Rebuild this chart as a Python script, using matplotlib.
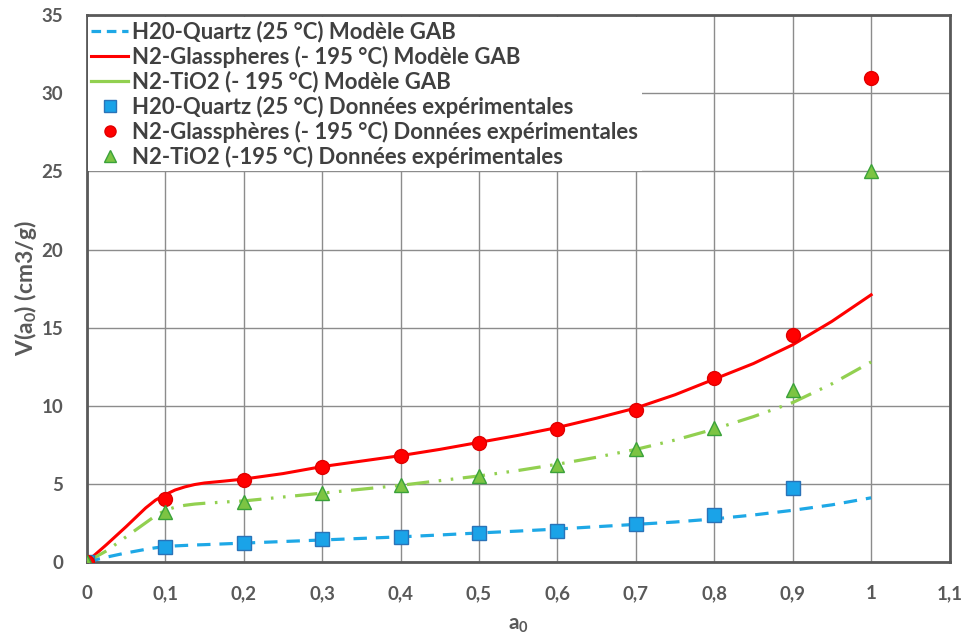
import matplotlib
matplotlib.use("Agg")
import matplotlib.pyplot as plt
from matplotlib.lines import Line2D

plt.rcParams['font.family'] = ['Lato', 'DejaVu Sans']
plt.rcParams['mathtext.default'] = 'regular'

# Experimental data
x_exp = [0, 0.1, 0.2, 0.3, 0.4, 0.5, 0.6, 0.7, 0.8, 0.9, 1.0]
quartz_exp = [0, 0.95, 1.2, 1.45, 1.6, 1.85, 2.0, 2.4, 3.0, 4.7]
glass_exp = [0, 4.0, 5.25, 6.1, 6.8, 7.6, 8.5, 9.7, 11.75, 14.5, 31.0]
tio2_exp = [0, 3.2, 3.85, 4.4, 4.9, 5.5, 6.2, 7.2, 8.6, 11.0, 25.0]

# GAB model curves
x_mod = [0, 0.025, 0.05, 0.075, 0.0875, 0.1, 0.1125, 0.125, 0.1375, 0.15, 0.175, 0.2,
         0.25, 0.3, 0.35, 0.4, 0.45, 0.5, 0.55, 0.6, 0.65, 0.7, 0.75, 0.8, 0.85,
         0.9, 0.95, 1.0]
quartz_mod = [0, 0.3, 0.57, 0.8, 0.9, 0.97, 1.02, 1.05, 1.08, 1.1, 1.15, 1.2,
              1.3, 1.4, 1.5, 1.6, 1.72, 1.85, 1.97, 2.1, 2.25, 2.4, 2.55, 2.75, 3.0,
              3.3, 3.65, 4.1]
glass_mod = [0, 1.1, 2.25, 3.45, 3.95, 4.3, 4.6, 4.8, 4.95, 5.05, 5.17, 5.3,
             5.65, 6.1, 6.45, 6.8, 7.2, 7.65, 8.1, 8.6, 9.2, 9.85, 10.7, 11.7, 12.7,
             13.9, 15.4, 17.1]
tio2_mod = [0, 0.7, 1.6, 2.5, 2.95, 3.3, 3.5, 3.62, 3.7, 3.75, 3.83, 3.9,
            4.15, 4.4, 4.65, 4.9, 5.2, 5.5, 5.85, 6.25, 6.7, 7.2, 7.8, 8.5, 9.3,
            10.2, 11.4, 12.8]

labels = ["H20-Quartz (25 °C) Modèle GAB",
          "N2-Glasspheres (- 195 °C) Modèle GAB",
          "N2-TiO2 (- 195 °C) Modèle GAB",
          "H20-Quartz (25 °C) Données expérimentales",
          "N2-Glasspheres (- 195 °C) Données expérimentales".replace("Glasspheres", "Glasspheres".replace("phe", "phè")),
          "N2-TiO2 (-195 °C) Données expérimentales"]

xticks = [0, 0.1, 0.2, 0.3, 0.4, 0.5, 0.6, 0.7, 0.8, 0.9, 1.0, 1.1]
xtick_labels = ["0", "0,1", "0,2", "0,3", "0,4", "0,5", "0,6", "0,7", "0,8", "0,9", "1", "1,1"]
yticks = [0, 5, 10, 15, 20, 25, 30, 35]

fig = plt.figure(figsize=(9.65, 6.37), dpi=100)
ax = fig.add_axes([0.090, 0.118, 0.894, 0.858])

blue_line = "#1EA8E6"
red = "#FF0000"
green_line = "#92D050"

l1, = ax.plot(x_mod, quartz_mod, color=blue_line, lw=2.3, dashes=(4.2, 2.8), zorder=3)
l2, = ax.plot(x_mod, glass_mod, color=red, lw=2.2, zorder=3)
l3, = ax.plot(x_mod, tio2_mod, color=green_line, lw=2.3,
              dashes=(7, 3, 0.8, 3, 0.8, 3), zorder=3)
m1, = ax.plot(x_exp[:len(quartz_exp)], quartz_exp, ls='none', marker='s', ms=10,
              mfc="#1AA3E8", mec="#2A73B8", mew=1.0, zorder=4)
m2, = ax.plot(x_exp, glass_exp, ls='none', marker='o', ms=10,
              mfc="#FF0000", mec="#E00000", mew=1.0, zorder=4)
m3, = ax.plot(x_exp, tio2_exp, ls='none', marker='^', ms=10,
              mfc="#7CC443", mec="#3AA23A", mew=1.0, zorder=4)

# legend handles (green model shown solid in legend)
h3 = Line2D([], [], color=green_line, lw=2.3)
h1 = Line2D([], [], color=blue_line, lw=2.3, dashes=(3.0, 1.8))
hm1 = Line2D([], [], ls='none', marker='s', ms=8, mfc="#1AA3E8", mec="#2A73B8")
hm2 = Line2D([], [], ls='none', marker='o', ms=8, mfc="#FF0000", mec="#E00000")
hm3 = Line2D([], [], ls='none', marker='^', ms=8, mfc="#7CC443", mec="#3AA23A")

ax.set_xlim(0, 1.1)
ax.set_ylim(0, 35)
ax.set_xticks(xticks)
ax.set_xticklabels(xtick_labels)
ax.set_yticks(yticks)
ax.grid(True, color="#8C8C8C", lw=1.0)
ax.set_axisbelow(True)
for s in ax.spines.values():
    s.set_color("#595959")
    s.set_linewidth(2.0)
ax.tick_params(axis='y', length=0, pad=17, labelsize=13.5, labelcolor="#595959")
ax.tick_params(axis='x', length=0, pad=17, labelsize=13.5, labelcolor="#595959")
for t in ax.get_xticklabels() + ax.get_yticklabels():
    t.set_fontweight('bold')

ax.set_xlabel("a$_0$", fontsize=15, fontweight='bold', color="#595959", labelpad=9)
ax.set_ylabel("V(a$_0$) (cm3/g)", fontsize=16.5, fontweight='bold', color="#595959", labelpad=2)

leg = ax.legend([h1, l2, h3, hm1, hm2, hm3], labels, loc='upper left',
                bbox_to_anchor=(0.0015, 0.996), frameon=True, fancybox=False,
                framealpha=1, facecolor='white', edgecolor='none',
                borderpad=0.15, handlelength=1.65, handletextpad=0.2,
                labelspacing=0.14, borderaxespad=0,
                prop={'size': 15.9, 'weight': 'bold'})
for t in leg.get_texts():
    t.set_color("#404040")
leg.set_zorder(5)

fig.savefig("out.png", dpi=100, facecolor='white')
